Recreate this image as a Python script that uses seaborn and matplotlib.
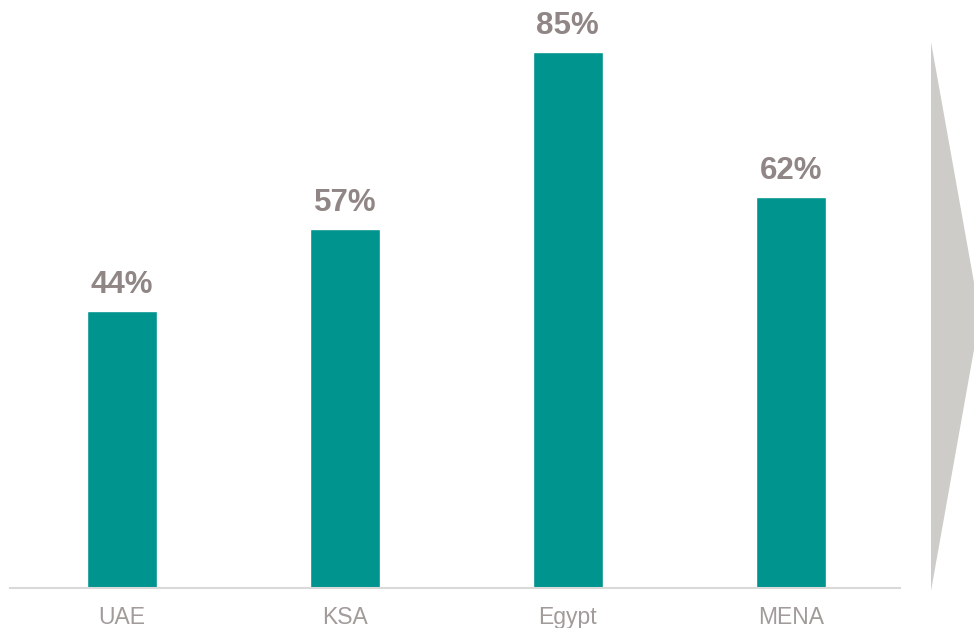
import matplotlib
matplotlib.use("Agg")
import matplotlib.pyplot as plt
from matplotlib.patches import Polygon
import seaborn as sns
import pandas as pd

# Share of respondents by market
regions = ["UAE", "KSA", "Egypt", "MENA"]
shares = [44, 57, 85, 62]

BAR_COLOR = "#00948F"
LABEL_COLOR = "#8F8685"
TICK_COLOR = "#A19B99"
AXIS_COLOR = "#D9D9D9"
ARROW_COLOR = "#CDCCC8"

sns.set_theme(style="white")
plt.rcParams["font.family"] = ["Liberation Sans", "DejaVu Sans"]

W, H = 974, 628
fig = plt.figure(figsize=(W / 100, H / 100), dpi=100)
ax = fig.add_axes([10 / W, 40 / H, 890 / W, 588 / H])

df = pd.DataFrame({"region": regions, "share": shares})
sns.barplot(data=df, x="region", y="share", color=BAR_COLOR, saturation=1,
            width=0.314, ax=ax)

ax.set_xlim(-0.502, 3.49)
ax.set_ylim(0, 93.3)

for i, v in enumerate(shares):
    ax.annotate(f"{v}%", (i, v), xytext=(0, 8), textcoords="offset points",
                ha="center", va="bottom", fontsize=22.5, fontweight="bold",
                color=LABEL_COLOR)

for side in ["top", "right", "left"]:
    ax.spines[side].set_visible(False)
ax.spines["bottom"].set_color(AXIS_COLOR)
ax.spines["bottom"].set_linewidth(1.5)
ax.set_yticks([])
ax.set_xlabel("")
ax.set_ylabel("")
ax.tick_params(axis="x", length=0, pad=13, labelsize=16.5, labelcolor=TICK_COLOR)

# Chevron pointing right at the edge of the figure
pts = [(931, 42), (980, 316), (931, 591)]
fig.patches.append(Polygon([(x / W, 1 - y / H) for x, y in pts], closed=True,
                           transform=fig.transFigure, facecolor=ARROW_COLOR,
                           edgecolor="none"))

fig.savefig("out.png", dpi=100, facecolor="white")
